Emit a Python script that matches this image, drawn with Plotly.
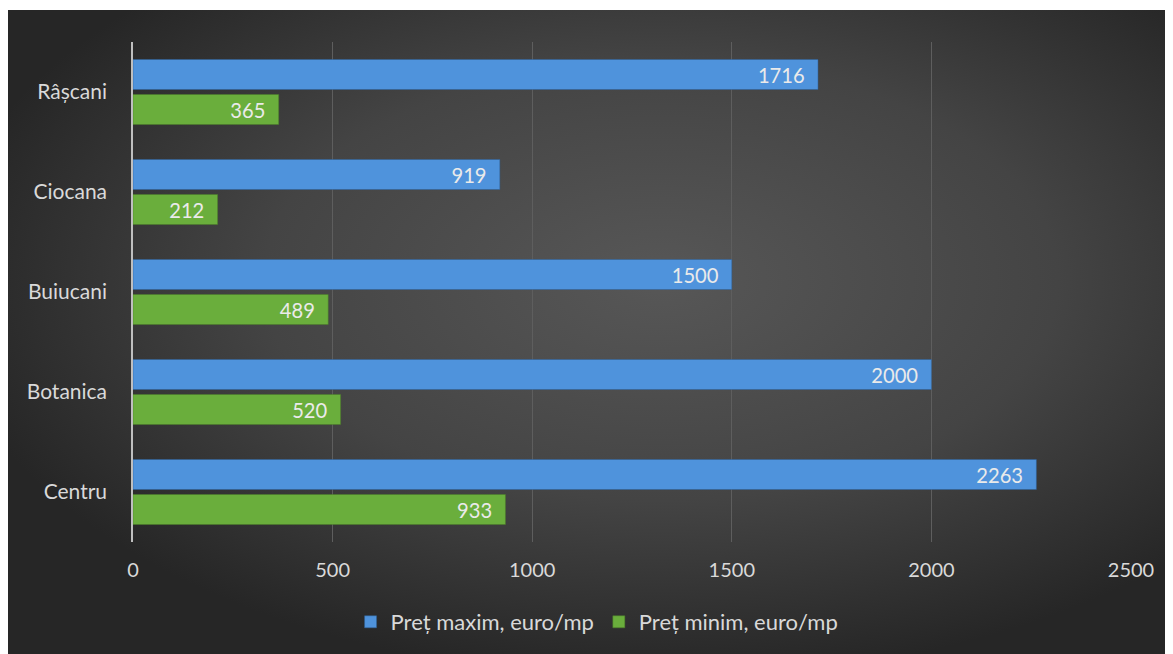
import base64
import plotly.graph_objects as go

districts = ["Râșcani", "Ciocana", "Buiucani", "Botanica", "Centru"]
pret_maxim = [1716, 919, 1500, 2000, 2263]
pret_minim = [365, 212, 489, 520, 933]
x_ticks = [0, 500, 1000, 1500, 2000, 2500]

FONT = "Lato, Carlito, Calibri, sans-serif"
TXT = "#d9d9d9"

svg = """<svg xmlns='http://www.w3.org/2000/svg' width='1165' height='644' viewBox='0 0 1165 644' preserveAspectRatio='none'>
<defs><radialGradient id='g' cx='0.56' cy='0.42' r='0.62' gradientUnits='objectBoundingBox'>
<stop offset='0' stop-color='#575757'/><stop offset='0.55' stop-color='#444444'/><stop offset='1' stop-color='#262626'/>
</radialGradient></defs>
<rect x='0' y='0' width='1165' height='644' fill='url(#g)'/></svg>"""
bg_uri = "data:image/svg+xml;base64," + base64.b64encode(svg.encode()).decode()

PAD = "\u00a0\u00a0"

fig = go.Figure()
fig.add_trace(go.Bar(
    y=districts, x=pret_maxim, orientation="h", name="Preț maxim, euro/mp",
    marker=dict(color="#4f93dc", line=dict(color="#2f5f95", width=0.5)),
    texttemplate="%{x}" + PAD, textposition="inside", insidetextanchor="end",
    textfont=dict(family=FONT, size=21, color="#eaeaea"),
))
fig.add_trace(go.Bar(
    y=districts, x=pret_minim, orientation="h", name="Preț minim, euro/mp",
    marker=dict(color="#6aae3c", line=dict(color="#4a7d28", width=0.5)),
    texttemplate="%{x}" + PAD, textposition="inside", insidetextanchor="end",
    textfont=dict(family=FONT, size=21, color="#eaeaea"),
))

fig.update_layout(
    width=1173, height=654,
    margin=dict(l=125, r=50, t=34, b=120),
    paper_bgcolor="white", plot_bgcolor="rgba(0,0,0,0)",
    barmode="group", bargap=0.30, bargroupgap=0.143,
    font=dict(family=FONT, size=20, color=TXT),
    showlegend=True,
    legend=dict(orientation="h", x=0.465, xanchor="center", y=-0.16, yanchor="middle",
                font=dict(family=FONT, size=22, color=TXT), bgcolor="rgba(0,0,0,0)",
                itemwidth=30),
    images=[dict(source=bg_uri, xref="paper", yref="paper", x=-0.1253, y=1.064,
                 sizex=1.1673, sizey=1.288, xanchor="left", yanchor="top",
                 sizing="stretch", layer="below")],
    uniformtext=dict(mode="show", minsize=10),
)
fig.update_xaxes(range=[0, 2500], tickvals=x_ticks, showgrid=True, gridcolor="#5e5e5e",
                 gridwidth=1, zeroline=False, showline=False, ticks="",
                 tickfont=dict(family=FONT, size=20, color=TXT), ticklabelstandoff=14)
fig.update_yaxes(autorange="reversed", showgrid=False, showline=True, linecolor="#bfbfbf",
                 linewidth=1.5, ticks="", tickfont=dict(family=FONT, size=21, color=TXT),
                 ticklabelstandoff=20)

fig.write_html("out.html")
